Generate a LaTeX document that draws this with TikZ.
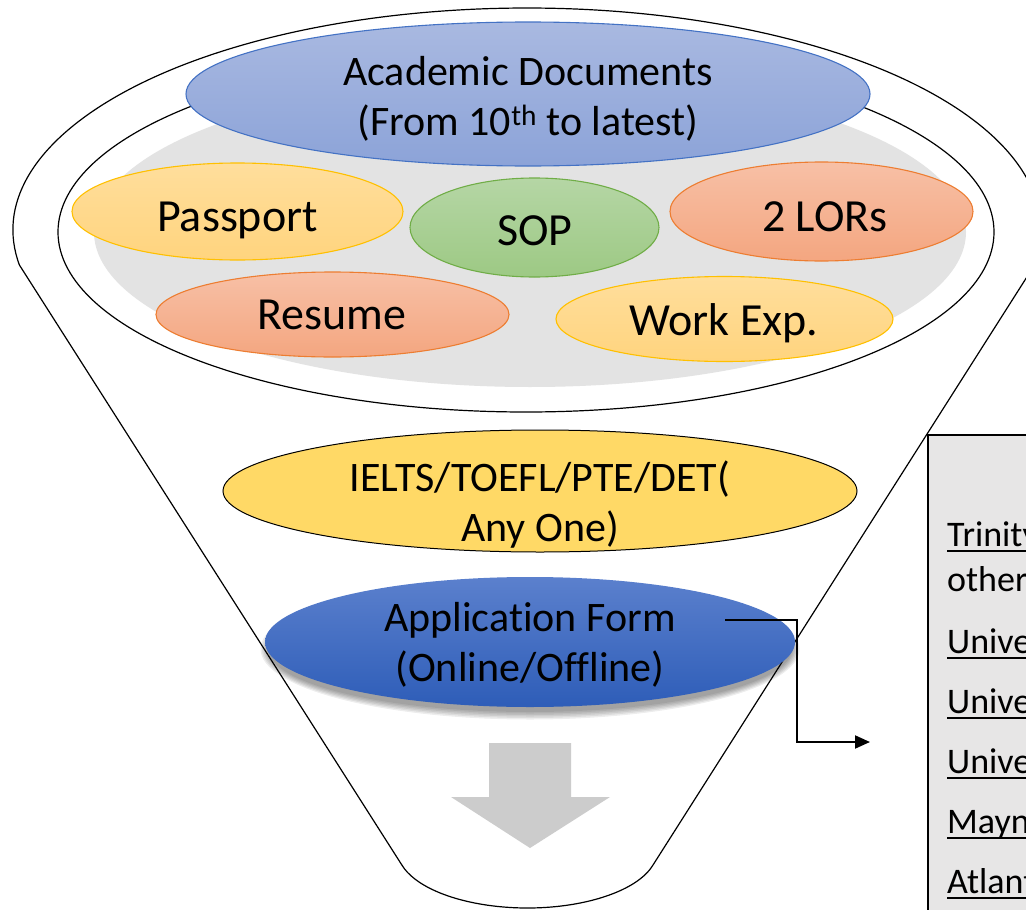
\documentclass[tikz,border=0pt]{standalone}
\usepackage{fontspec}
\setmainfont{Carlito}[Ligatures=NoCommon]
\usetikzlibrary{arrows.meta,shapes.geometric}
\definecolor{acadT}{HTML}{A9B9E1}
\definecolor{acadB}{HTML}{8CA3D8}
\definecolor{acadD}{HTML}{4472C4}
\definecolor{yelT}{HTML}{FFDE9C}
\definecolor{yelB}{HTML}{FFD47E}
\definecolor{yelD}{HTML}{FFC000}
\definecolor{salT}{HTML}{F7C0A6}
\definecolor{salB}{HTML}{F4A680}
\definecolor{salD}{HTML}{ED7D31}
\definecolor{grnT}{HTML}{B5D6A5}
\definecolor{grnB}{HTML}{9DC984}
\definecolor{grnD}{HTML}{70AD47}
\definecolor{ieltsF}{HTML}{FFD966}
\definecolor{appT}{HTML}{5B80CD}
\definecolor{appB}{HTML}{2E5DB8}
\definecolor{boxF}{HTML}{E7E6E6}
\definecolor{arrF}{HTML}{CCCCCC}
\definecolor{plate}{HTML}{E3E3E3}
\newcommand\ulword[1]{\setbox0=\hbox{#1}\rlap{\rule[-5.8pt]{\wd0}{1.8pt}}\box0}
\begin{document}
\begin{tikzpicture}[x=1pt,y=-1pt,
  ell/.style={ellipse, inner sep=0pt, line width=1.1pt},
  lbl/.style={anchor=base, inner sep=0pt, text=black},
  bigf/.style={font=\fontsize{42}{50}\selectfont},
  midf/.style={font=\fontsize{46}{55}\selectfont},
  smlf/.style={font=\fontsize{36}{43}\selectfont},
  yel/.style={ell, top color=yelT, bottom color=yelB, draw=yelD},
  sal/.style={ell, top color=salT, bottom color=salB, draw=salD},
  grn/.style={ell, top color=grnT, bottom color=grnB, draw=grnD},
  rim/.style={line width=1.2pt, draw=black}]
\useasboundingbox (0,0) rectangle (1026,910);
\clip (0,0) rectangle (1026,910);
\fill[white] (0,0) rectangle (1026,910);
% funnel outline
\draw[rim, fill=white] (19.4,265) arc[start angle=170.93, end angle=369.07, x radius=514, y radius=222]
  -- (653,865) arc[start angle=15, end angle=165, x radius=130, y radius=58] -- cycle;
\draw[rim] (526,232) ellipse [x radius=468, y radius=180];
\fill[plate] (530,232) ellipse [x radius=436, y radius=155];
% top ellipse
\node[ell, minimum width=684pt, minimum height=144pt, top color=acadT, bottom color=acadB, draw=acadD] (acad) at (528,94) {};
\node[lbl, bigf] (acad1) at (528,85) {Academic Documents};
\node[lbl, bigf] (acad2) at (528,135) {(From 10\textsuperscript{th} to latest)};
% document ellipses
\node[yel, minimum width=331pt, minimum height=97pt] (pass) at (237.5,211.5) {};
\node[lbl, midf] (passt) at (237.5,231) {Passport};
\node[grn, minimum width=249pt, minimum height=99pt] (sop) at (534.5,227.5) {};
\node[lbl, midf] (sopt) at (535,245) {SOP};
\node[sal, minimum width=303pt, minimum height=99pt] (lor) at (821.5,211.5) {};
\node[lbl, midf] (lort) at (825,231) {2 LORs};
\node[sal, minimum width=353pt, minimum height=85pt] (res) at (332.5,314.5) {};
\node[lbl, midf] (rest) at (332,329) {Resume};
\node[yel, minimum width=337pt, minimum height=85pt] (work) at (724.5,319) {};
\node[lbl, midf] (workt) at (724,335) {Work Exp.};
% tests
\node[ell, minimum width=634pt, minimum height=122pt, fill=ieltsF, draw=black, line width=1pt] (ielts) at (540,491) {};
\node[lbl, bigf] (ielts1) at (540,491) {IELTS/TOEFL/PTE/DET(};
\node[lbl, bigf] (ielts2) at (540,541) {Any One)};
% application form with soft shadow
\foreach \k in {0,1.5,3,4.5,6,7.5}{
  \fill[black, opacity=0.07] (530,649) ellipse [x radius=262+\k, y radius=63+\k];
}
\node[ell, minimum width=530pt, minimum height=130pt, top color=appT, bottom color=appB] (app) at (530,642) {};
\node[lbl, bigf] (app1) at (530,631) {Application Form};
\node[lbl, bigf] (app2) at (530,681) {(Online/Offline)};
% grey arrow
\fill[arrF] (489,743) -- (571,743) -- (571,797) -- (610,797) -- (530,848) -- (451,797) -- (489,797) -- cycle;
% right box
\node[draw=black, fill=boxF, line width=1.5pt, anchor=north west, minimum width=130pt, minimum height=500pt, inner sep=0pt] (box) at (927,434) {};
\node[lbl, smlf, anchor=base west] (b1) at (947,546) {\ulword{Trinity}};
\node[lbl, smlf, anchor=base west] (b2) at (947,591) {other};
\node[lbl, smlf, anchor=base west] (b3) at (947,653) {\ulword{University}};
\node[lbl, smlf, anchor=base west] (b4) at (947,713) {\ulword{University}};
\node[lbl, smlf, anchor=base west] (b5) at (947,773) {\ulword{University}};
\node[lbl, smlf, anchor=base west] (b6) at (947,833) {\ulword{Maynooth}};
\node[lbl, smlf, anchor=base west] (b7) at (947,893) {\ulword{Atlantic}};
% connector
\coordinate (cs) at (725,620);
\coordinate (ce) at (870,742);
\draw[line width=2pt, -{Triangle[length=15pt,width=13pt]}] (cs) -- (797,620) |- (ce);
\end{tikzpicture}
\end{document}
